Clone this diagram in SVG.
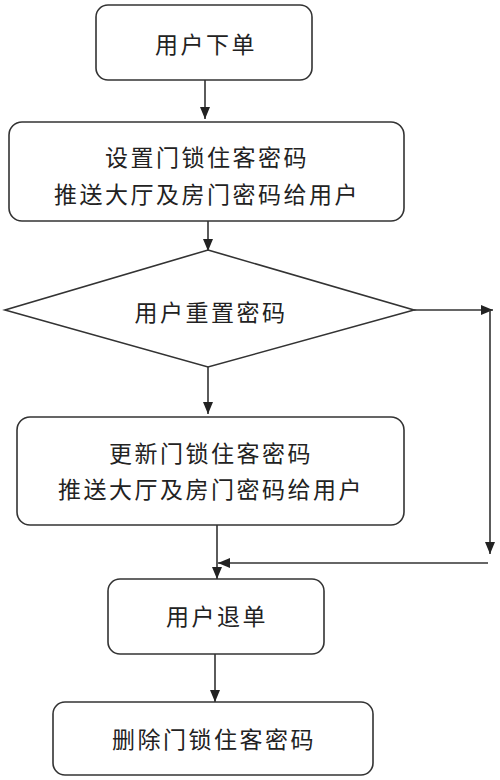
<svg xmlns="http://www.w3.org/2000/svg" width="500" height="780" viewBox="0 0 500 780">
<style>
.box{fill:#fff;stroke:#333;stroke-width:1.6}
.t{font-family:"Noto Sans CJK SC","Noto Sans",sans-serif;font-size:23px;fill:#222;text-anchor:middle;letter-spacing:2.5px}
.c{fill:none;stroke:#333;stroke-width:1.6}
</style>
<defs>
<marker id="ah" markerUnits="userSpaceOnUse" markerWidth="12" markerHeight="12" viewBox="0 0 12 12" refX="12" refY="6" orient="auto">
<path d="M0,1 L12,6 L0,11 Z" fill="#222"/>
</marker>
</defs>
<rect x="0" y="0" width="500" height="780" fill="#fff"/>
<g id="connectors">
<line class="c" x1="205" y1="80" x2="205" y2="119" marker-end="url(#ah)"/>
<line class="c" x1="208" y1="203" x2="208" y2="251" marker-end="url(#ah)"/>
<line class="c" x1="208" y1="367" x2="208" y2="414" marker-end="url(#ah)"/>
<line class="c" x1="414" y1="310" x2="493" y2="310" marker-end="url(#ah)"/>
<line class="c" x1="490" y1="310" x2="490" y2="554" marker-end="url(#ah)"/>
<line class="c" x1="488" y1="563" x2="218" y2="563" marker-end="url(#ah)"/>
<line class="c" x1="217" y1="525" x2="217" y2="579" marker-end="url(#ah)"/>
<line class="c" x1="215" y1="654" x2="215" y2="702" marker-end="url(#ah)"/>
</g>
<g id="n1">
<rect class="box" x="96" y="5" width="216" height="75" rx="12"/>
<text class="t" x="206" y="53">用户下单</text>
</g>
<g id="n2">
<rect class="box" x="9" y="122" width="395" height="99" rx="13"/>
<text class="t" x="207" y="166">设置门锁住客密码</text>
<text class="t" x="207" y="203">推送大厅及房门密码给用户</text>
</g>
<g id="n3">
<path class="box" d="M208,250 L414,310 L208,367 L5,310 Z"/>
<text class="t" x="211" y="321">用户重置密码</text>
</g>
<g id="n4">
<rect class="box" x="17" y="417" width="387" height="108" rx="13"/>
<text class="t" x="211" y="462">更新门锁住客密码</text>
<text class="t" x="211" y="498">推送大厅及房门密码给用户</text>
</g>
<g id="n5">
<rect class="box" x="108" y="579" width="216" height="75" rx="12"/>
<text class="t" x="217" y="625">用户退单</text>
</g>
<g id="n6">
<rect class="box" x="53" y="702" width="320" height="73" rx="12"/>
<text class="t" x="214" y="748">删除门锁住客密码</text>
</g>
</svg>
